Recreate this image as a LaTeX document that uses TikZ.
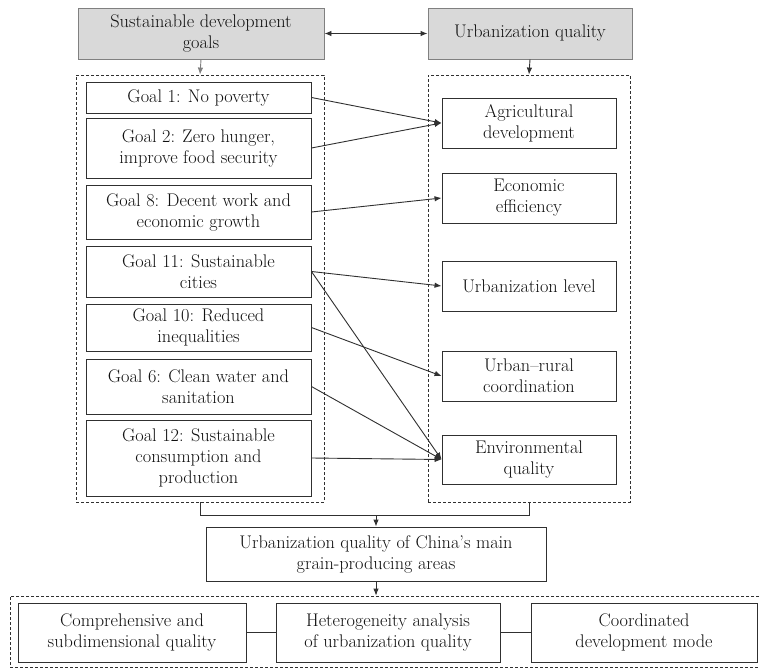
\documentclass[tikz,border=0pt]{standalone}
\usetikzlibrary{arrows.meta}
\definecolor{linec}{HTML}{303030}
\definecolor{graybox}{HTML}{D9D9D9}
\definecolor{grayline}{HTML}{808080}
\definecolor{txt}{HTML}{101010}
\newcommand{\myfs}{\fontsize{18.3}{21}\selectfont}
\begin{document}
\begin{tikzpicture}[x=1pt,y=-1pt,
  bx/.style 2 args={draw=linec, line width=0.9pt, align=center, inner sep=0pt,
    font=\myfs, text=txt, minimum width=#1, minimum height=#2},
  gbx/.style 2 args={bx={#1}{#2}, fill=graybox, draw=grayline},
  dbox/.style 2 args={draw=linec, line width=0.8pt, dash pattern=on 3pt off 2pt,
    minimum width=#1, minimum height=#2, inner sep=0pt},
  arr/.style={draw=linec, line width=0.9pt, -{Latex[length=7pt,width=5.5pt]}},
  garr/.style={draw=grayline, line width=0.9pt, -{Latex[length=7pt,width=5.5pt]}},
  darr/.style={draw=linec, line width=0.9pt, {Latex[length=7pt,width=5.5pt]}-{Latex[length=7pt,width=5.5pt]}},
  ln/.style={draw=linec, line width=0.9pt}]
\useasboundingbox (0,0) rectangle (760,668);
\clip (0,0) rectangle (760,668);
\fill[white] (0,0) rectangle (760,668);

% top boxes
\node[gbx={246}{51}] (sdg) at (201,33.5) {Sustainable development\\goals};
\node[gbx={204}{51}] (uq) at (530,33.5) {Urbanization quality};

% dashed groups
\node[dbox={248}{427}] (ld) at (200,288.5) {};
\node[dbox={202}{427}] (rd) at (529,288.5) {};

% goals
\node[bx={225}{31}] (g1) at (198.5,97.5) {Goal 1: No poverty};
\node[bx={225}{60}] (g2) at (198.5,148) {Goal 2: Zero hunger,\\improve food security};
\node[bx={225}{54}] (g8) at (198.5,212) {Goal 8: Decent work and\\economic growth};
\node[bx={225}{51}] (g11) at (198.5,271.5) {Goal 11: Sustainable\\cities};
\node[bx={225}{47}] (g10) at (198.5,327.5) {Goal 10: Reduced\\inequalities};
\node[bx={225}{55}] (g6) at (198.5,386.5) {Goal 6: Clean water and\\sanitation};
\node[bx={225}{76}] (g12) at (198.5,458) {Goal 12: Sustainable\\consumption and\\production};

% dimensions
\node[bx={174}{50}] (agri) at (529,123) {Agricultural\\development};
\node[bx={174}{50}] (econ) at (529,198) {Economic\\efficiency};
\node[bx={174}{50}] (ulev) at (529,286) {Urbanization level};
\node[bx={174}{50}] (urr) at (529,376) {Urban--rural\\coordination};
\node[bx={174}{49}] (env) at (529,459.5) {Environmental\\quality};

% bottom
\node[bx={340}{54}] (china) at (376,554) {Urbanization quality of China's main\\grain-producing areas};
\node[dbox={764}{71}] (bd) at (392,631.5) {};
\node[bx={228}{59}] (b1) at (132,632.5) {Comprehensive and\\subdimensional quality};
\node[bx={224}{59}] (b2) at (388,632.5) {Heterogeneity analysis\\of urbanization quality};
\node[bx={226}{59}] (b3) at (644,632.5) {Coordinated\\development mode};

% connectors top
\draw[darr] (sdg.east) -- (uq.west);
\draw[garr] (sdg.south) -- (ld.north);
\draw[arr] (uq.south) -- (rd.north);

% goal -> dimension
\draw[arr] (g1.east) -- (agri.west);
\draw[arr] (g2.east) -- (agri.west);
\draw[arr] (g8.east) -- (econ.west);
\draw[arr] (g11.east) -- (ulev.west);
\draw[arr] (g11.east) -- (env.west);
\draw[arr] (g10.east) -- (urr.west);
\draw[arr] (g6.east) -- (env.west);
\draw[arr] (g12.east) -- (env.west);

% merge
\coordinate (jn) at (376,515);
\draw[ln] (ld.south) -- (ld.south |- jn) -- (rd.south |- jn) -- (rd.south);
\draw[arr] (jn) -- (china.north);
\draw[arr] (china.south) -- (china.south |- bd.north);

% bottom links
\draw[ln] (b1.east) -- (b2.west);
\draw[ln] (b2.east) -- (b3.west);
\end{tikzpicture}
\end{document}
